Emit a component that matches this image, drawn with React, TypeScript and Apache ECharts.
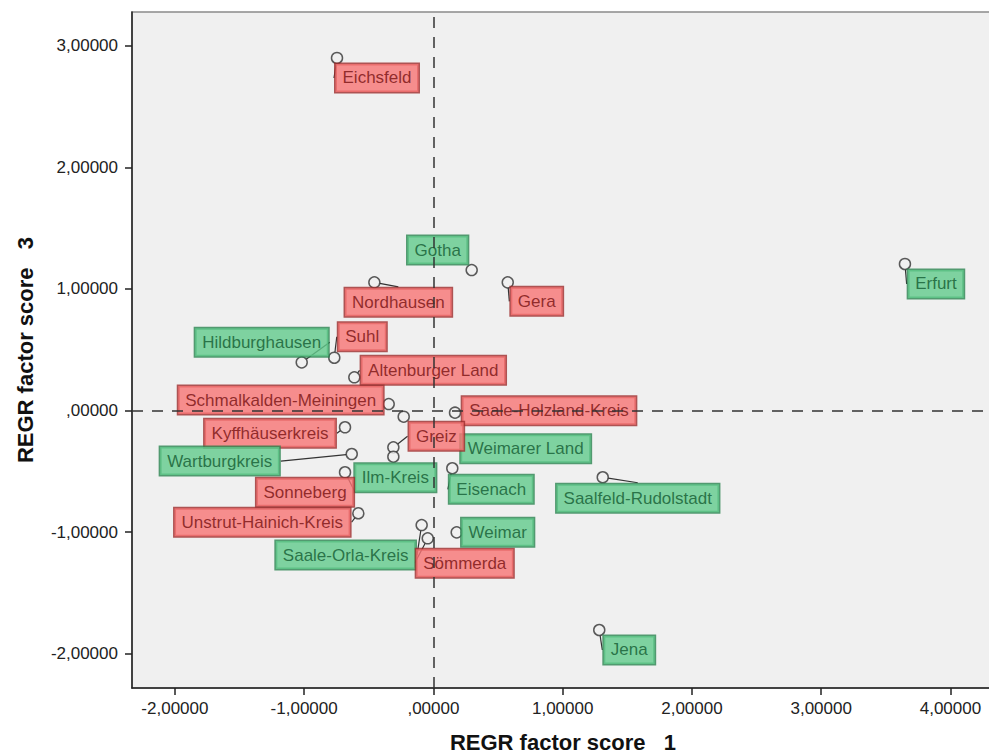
import React, { useEffect, useRef } from "react";
import * as echarts from "echarts";

// ---- data ----
const districts = [
  "Eichsfeld", "Gotha", "Nordhausen", "Gera", "Erfurt", "Hildburghausen", "Suhl",
  "Altenburger Land", "Schmalkalden-Meiningen", "Saale-Holzland-Kreis", "Weimarer Land",
  "Greiz", "Ilm-Kreis", "Kyffhäuserkreis", "Wartburgkreis", "Sonneberg",
  "Unstrut-Hainich-Kreis", "Saale-Orla-Kreis", "Sömmerda", "Weimar", "Eisenach",
  "Saalfeld-Rudolstadt", "Jena",
];
const factorScore1 = [
  -0.746, 0.296, -0.457, 0.575, 3.648, -1.019, -0.767,
  -0.612, -0.346, 0.167, -0.230,
  -0.310, -0.310, -0.684, -0.632, -0.684,
  -0.581, -0.091, -0.044, 0.180, 0.146,
  1.310, 1.283,
];
const factorScore3 = [
  2.899, 1.155, 1.054, 1.054, 1.205, 0.396, 0.434,
  0.273, 0.053, -0.018, -0.051,
  -0.303, -0.380, -0.138, -0.358, -0.508,
  -0.845, -0.942, -1.051, -1.002, -0.475,
  -0.549, -1.805,
];
// cluster group: "r" = red, "g" = green
const clusterGroup = [
  "r", "g", "r", "r", "g", "g", "r",
  "r", "r", "r", "g",
  "r", "g", "r", "g", "r",
  "r", "g", "r", "g", "g",
  "g", "g",
];
const xTickValues = [-2, -1, 0, 1, 2, 3, 4];
const xTickLabels = ["-2,00000", "-1,00000", ",00000", "1,00000", "2,00000", "3,00000", "4,00000"];
const yTickValues = [-2, -1, 0, 1, 2, 3];
const yTickLabels = ["-2,00000", "-1,00000", ",00000", "1,00000", "2,00000", "3,00000"];
const referenceX = [0];
const referenceY = [0];
const xAxisTitle = "REGR factor score   1";
const yAxisTitle = "REGR factor score   3";

// ---- layout (label offsets in px, relative to the point) ----
const labelOffsets: [number, number][] = [
  [40, 20], [-34, -20], [24, 20], [29, 19], [31, 20], [-40, -20], [28, -21],
  [79, -7], [-108, -4], [94, -2], [122, 32],
  [43, -11], [2, 21], [-75, 6], [-132, 7], [-40, 20],
  [-96, 9], [-76, 30], [37, 25], [41, 0], [39, 21],
  [35, 21], [30, 20],
];
const hideLeader = ["Weimarer Land", "Gotha"];

const FONT = "'Liberation Sans', Arial, sans-serif";
const styles: Record<string, any> = {
  r: { fill: "#f87474", border: "#9e2c2c", text: "#761010" },
  g: { fill: "#62cb8c", border: "#2a8450", text: "#125a31" },
};

export default function App() {
  const ref = useRef<HTMLDivElement>(null);
  useEffect(() => {
    if (!ref.current) return;
    const chart = echarts.init(ref.current, undefined, { renderer: "svg" });
    const data = districts.map((name, i) => {
      const s = styles[clusterGroup[i]];
      return {
        name,
        value: [factorScore1[i], factorScore3[i]],
        label: {
          color: s.text,
          backgroundColor: s.fill,
          borderColor: s.border,
        },
        labelLine: { show: hideLeader.indexOf(name) < 0 },
      };
    });
    const fmt = (vals: number[], labels: string[]) => (v: number) => {
      const idx = vals.findIndex((t) => Math.abs(t - v) < 1e-6);
      return idx >= 0 ? labels[idx] : "";
    };
    chart.setOption({
      animation: false,
      backgroundColor: "#ffffff",
      grid: {
        left: 132, top: 12, right: 6, bottom: 66,
        show: true, backgroundColor: "#f0f0f0", borderColor: "#8a8a8a", borderWidth: 1.5,
      },
      xAxis: {
        type: "value",
        min: -2.332, max: 4.337,
        axisLine: { show: true, onZero: false, lineStyle: { color: "#222", width: 1.5 } },
        axisTick: { show: true, length: 7, customValues: xTickValues, lineStyle: { color: "#222", width: 1.5 } },
        axisLabel: {
          customValues: xTickValues, formatter: fmt(xTickValues, xTickLabels),
          color: "#222", fontSize: 17, fontFamily: FONT, margin: 12,
        },
        splitLine: { show: false },
      },
      yAxis: {
        type: "value",
        min: -2.282, max: 3.277,
        axisLine: { show: true, onZero: false, lineStyle: { color: "#222", width: 1.5 } },
        axisTick: { show: true, length: 7, customValues: yTickValues, lineStyle: { color: "#222", width: 1.5 } },
        axisLabel: {
          customValues: yTickValues, formatter: fmt(yTickValues, yTickLabels),
          color: "#222", fontSize: 17, fontFamily: FONT, margin: 14,
        },
        splitLine: { show: false },
      },
      graphic: [
        {
          type: "text", x: 563, y: 742,
          style: { text: xAxisTitle, font: `bold 22px ${FONT}`, fill: "#111", textAlign: "center", textVerticalAlign: "middle" },
        },
        {
          type: "text", x: 25, y: 350, rotation: Math.PI / 2,
          style: { text: yAxisTitle, font: `bold 22px ${FONT}`, fill: "#111", textAlign: "center", textVerticalAlign: "middle" },
        },
      ],
      series: [
        {
          type: "scatter",
          z: 2,
          symbol: "circle",
          symbolSize: 11,
          itemStyle: { color: "#f0f0f0", borderColor: "#333", borderWidth: 1.5 },
          label: {
            show: true,
            position: "inside",
            formatter: "{b}",
            fontSize: 17,
            fontFamily: FONT,
            lineHeight: 20,
            padding: [4, 7],
            borderWidth: 1.5,
          },
          labelLayout: (p: any) => {
            const o = labelOffsets[p.dataIndex];
            return { dx: o[0], dy: o[1] };
          },
          labelLine: { show: true, lineStyle: { color: "#333", width: 1.2 } },
          data,
        },
        {
          type: "line",
          z: 5,
          data: [],
          markLine: {
            silent: true,
            symbol: ["none", "none"],
            label: { show: false },
            lineStyle: { color: "#333", width: 1.5, type: [11, 9] },
            data: [
              ...referenceX.map((v) => ({ xAxis: v })),
              ...referenceY.map((v) => ({ yAxis: v })),
            ],
          },
        },
      ],
    });
    return () => chart.dispose();
  }, []);
  return (
    <div style={{ position: "fixed", left: 0, top: 0, width: 989, height: 754, overflow: "hidden", background: "#fff" }}>
      <div ref={ref} style={{ width: 1000, height: 754 }} />
    </div>
  );
}
